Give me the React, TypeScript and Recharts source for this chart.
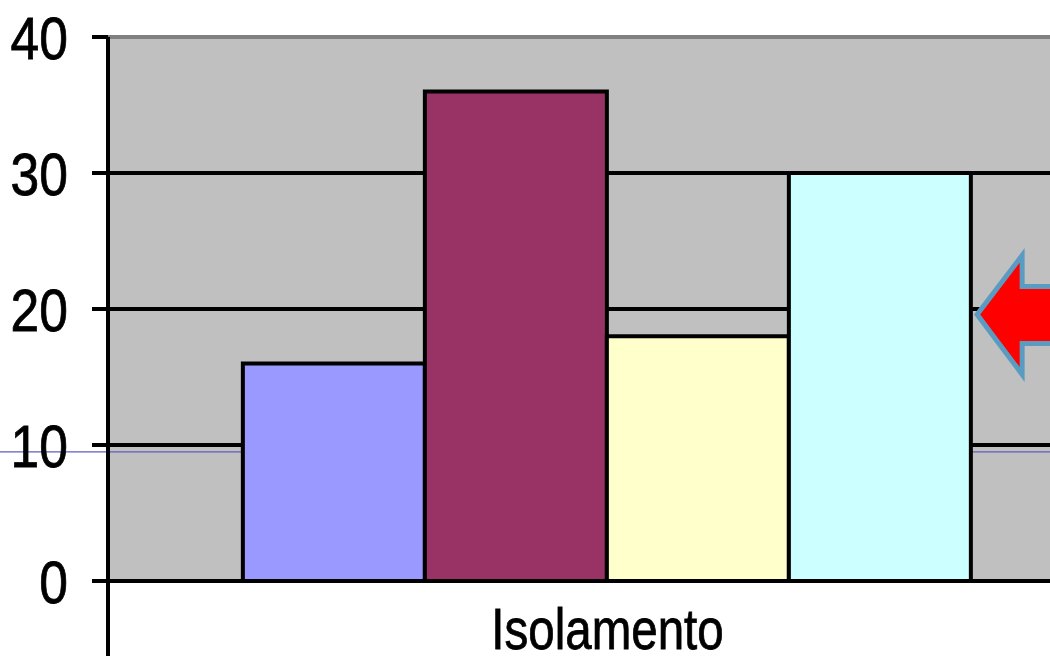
import React from 'react';
import { BarChart, Bar, XAxis, YAxis, CartesianGrid, ReferenceLine, usePlotArea } from 'recharts';

const categories = ['Isolamento'];
const serieA = [16];
const serieB = [36];
const serieC = [18];
const serieD = [30];
const yTicks = [0, 10, 20, 30, 40];
const arrowValue = 19.6;
const blueLineValue = 9.5;

const data = categories.map((name, i) => ({
  name,
  a: serieA[i],
  b: serieB[i],
  c: serieC[i],
  d: serieD[i],
}));

const FONT = '"Liberation Sans", Arial, sans-serif';
const LINE = 4;

function YTick({ x, y, payload }: any) {
  return (
    <text
      transform={`translate(${x},${y}) scale(0.86,1)`}
      textAnchor="end"
      dy="0.36em"
      fontSize={60}
      fontFamily={FONT}
      fill="#000"
      stroke="#000"
      strokeWidth={0.8}
    >
      {payload.value}
    </text>
  );
}

function XTick({ x, y, payload }: any) {
  return (
    <text
      transform={`translate(${x},${y}) scale(0.82,1)`}
      textAnchor="middle"
      dy={66}
      fontSize={58}
      fontFamily={FONT}
      fill="#000"
      stroke="#000"
      strokeWidth={0.8}
    >
      {payload.value}
    </text>
  );
}

// axis extension below the plot, arrow annotation, thin blue line
function Extras() {
  const plot = usePlotArea();
  if (!plot) return null;
  const yOf = (v: number) => plot.y + plot.height * (1 - v / 40);
  const bottom = plot.y + plot.height;
  const ay = yOf(arrowValue);
  const ax = plot.x + plot.width * 0.87;
  const arrow = [
    [ax, ay],
    [ax + 45, ay - 59],
    [ax + 45, ay - 28],
    [ax + 200, ay - 28],
    [ax + 200, ay + 29],
    [ax + 45, ay + 29],
    [ax + 45, ay + 60],
  ]
    .map((p) => p.join(','))
    .join(' ');
  const ly = yOf(blueLineValue);
  return (
    <g>
      <line x1={plot.x} x2={plot.x} y1={bottom} y2={bottom + 90} stroke="#000" strokeWidth={LINE} />
      <polygon points={arrow} fill="#FF0000" stroke="#5A9BC2" strokeWidth={5} strokeLinejoin="miter" />
      <line x1={0} x2={plot.x + plot.width + 10} y1={ly} y2={ly} stroke="#5C5CC0" strokeWidth={1.2} />
    </g>
  );
}

export default function App() {
  return (
    <div
      style={{
        position: 'absolute',
        left: 0,
        top: 0,
        width: 1050,
        height: 656,
        overflow: 'hidden',
        background: '#fff',
      }}
    >
      <BarChart
        width={1107}
        height={656}
        data={data}
        margin={{ top: 37, right: 0, bottom: 0, left: 0 }}
        barCategoryGap="13.5%"
        barGap={0}
      >
        <CartesianGrid fill="#C0C0C0" stroke="#000" strokeWidth={LINE} vertical={false} />
        <XAxis
          dataKey="name"
          height={75}
          axisLine={{ stroke: '#000', strokeWidth: LINE }}
          tickLine={false}
          tickSize={0}
          tick={<XTick />}
        />
        <YAxis
          width={108}
          domain={[0, 40]}
          ticks={yTicks}
          interval={0}
          axisLine={{ stroke: '#000', strokeWidth: LINE }}
          tickLine={{ stroke: '#000', strokeWidth: LINE }}
          tickSize={16}
          tickMargin={24}
          tick={<YTick />}
        />
        <ReferenceLine y={40} stroke="#808080" strokeWidth={LINE} />
        <Bar dataKey="a" fill="#9999FF" stroke="#000" strokeWidth={LINE} isAnimationActive={false} />
        <Bar dataKey="b" fill="#993366" stroke="#000" strokeWidth={LINE} isAnimationActive={false} />
        <Bar dataKey="c" fill="#FFFFCC" stroke="#000" strokeWidth={LINE} isAnimationActive={false} />
        <Bar dataKey="d" fill="#CCFFFF" stroke="#000" strokeWidth={LINE} isAnimationActive={false} />
        <Extras />
      </BarChart>
    </div>
  );
}
